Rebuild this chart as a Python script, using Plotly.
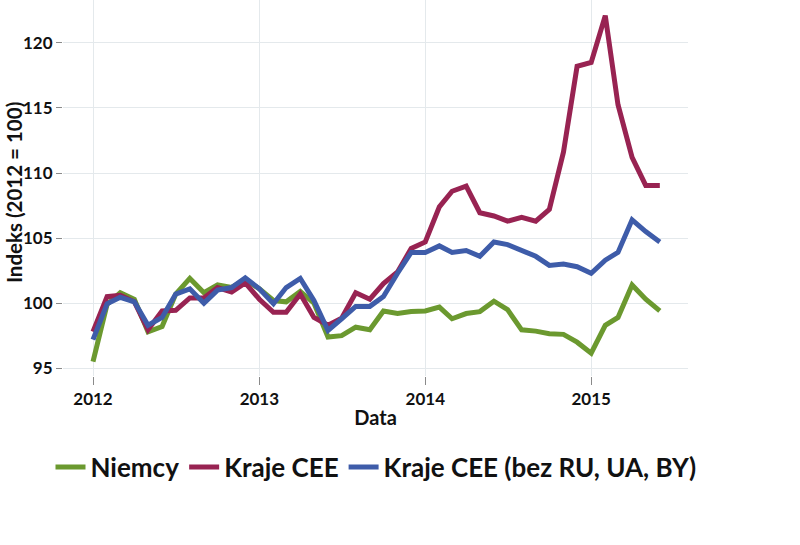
import pandas as pd
import plotly.graph_objects as go

months = pd.date_range("2012-01-01", periods=42, freq="MS")

niemcy = [95.5, 99.9, 100.8, 100.3, 97.8, 98.2, 100.7, 101.9, 100.8, 101.4, 101.2, 101.8,
          101.1, 100.2, 100.1, 100.9, 100.0, 97.4, 97.5, 98.15, 97.95, 99.4, 99.2, 99.35,
          99.4, 99.7, 98.8, 99.2, 99.35, 100.15, 99.5, 97.95, 97.85, 97.65, 97.6, 97.0,
          96.15, 98.3, 98.9, 101.4, 100.3, 99.4]

kraje_cee = [97.8, 100.5, 100.6, 100.1, 97.95, 99.4, 99.45, 100.4, 100.4, 101.2, 100.85, 101.55,
             100.3, 99.3, 99.3, 100.7, 98.9, 98.3, 98.85, 100.8, 100.3, 101.5, 102.4, 104.2,
             104.7, 107.4, 108.6, 109.0, 106.95, 106.7, 106.3, 106.6, 106.3, 107.2, 111.6, 118.2,
             118.5, 122.1, 115.25, 111.2, 109.05, 109.05]

kraje_cee_bez = [97.2, 99.95, 100.45, 100.1, 98.3, 98.9, 100.7, 101.1, 100.0, 101.0, 101.2, 101.95,
                 101.1, 99.95, 101.2, 101.9, 100.2, 97.9, 98.8, 99.75, 99.75, 100.5, 102.3, 103.9,
                 103.9, 104.4, 103.9, 104.05, 103.6, 104.7, 104.5, 104.0, 103.6, 102.9, 103.0, 102.8,
                 102.3, 103.3, 103.9, 106.4, 105.5, 104.7]

series_names = ["Niemcy", "Kraje CEE", "Kraje CEE (bez RU, UA, BY)"]
series_values = [niemcy, kraje_cee, kraje_cee_bez]
colors = ["#6b992f", "#982352", "#3e5ca9"]

x_ticks = ["2012-01-01", "2013-01-01", "2014-01-01", "2015-01-01"]
x_ticklabels = ["2012", "2013", "2014", "2015"]
y_ticks = [95, 100, 105, 110, 115, 120]
y_title = "Indeks (2012 = 100)"
x_title = "Data"

FONT = "Lato"
TXT = "#111111"
fig = go.Figure()
for name, vals, col in zip(series_names, series_values, colors):
    fig.add_trace(go.Scatter(x=months, y=vals, mode="lines", name=name, cliponaxis=False,
                             line=dict(color=col, width=5)))

fig.update_layout(
    width=800, height=545,
    margin=dict(l=63, r=112, t=0, b=169),
    plot_bgcolor="white", paper_bgcolor="white",
    font=dict(family=FONT, color=TXT, weight="bold"),
    showlegend=True,
    legend=dict(orientation="h", x=-0.02, xanchor="left", y=-0.242, yanchor="middle",
                font=dict(size=26, family=FONT, color=TXT, weight="bold"),
                itemwidth=30, tracegroupgap=0),
)
fig.add_annotation(text=y_title, textangle=-90, xref="paper", yref="paper",
                   x=-0.0785, y=0.489, xanchor="center", yanchor="middle", showarrow=False,
                   font=dict(size=20.5, family=FONT, color=TXT, weight="bold"))
fig.update_xaxes(
    type="date", automargin=False,
    range=["2011-10-27", "2015-08-02"],
    tickvals=x_ticks, ticktext=x_ticklabels,
    ticks="outside", ticklen=8, tickcolor="#8a8a8a", tickwidth=1,
    tickfont=dict(size=17, family=FONT, color=TXT, weight="bold"),
    showgrid=True, gridcolor="#e4e9ec", gridwidth=1,
    showline=False, zeroline=False,
    title=dict(text=x_title, font=dict(size=20, family=FONT, color=TXT, weight="bold"), standoff=2),
)
fig.update_yaxes(
    automargin=False,
    range=[94.4, 123.3],
    tickvals=y_ticks,
    ticks="outside", ticklen=6, tickcolor="#8a8a8a", tickwidth=1,
    tickfont=dict(size=17, family=FONT, color=TXT, weight="bold"),
    showgrid=True, gridcolor="#e4e9ec", gridwidth=1,
    showline=False, zeroline=False,
)

fig.write_html("out.html", config={"displayModeBar": False},
               post_script="document.body.style.margin='0';")
